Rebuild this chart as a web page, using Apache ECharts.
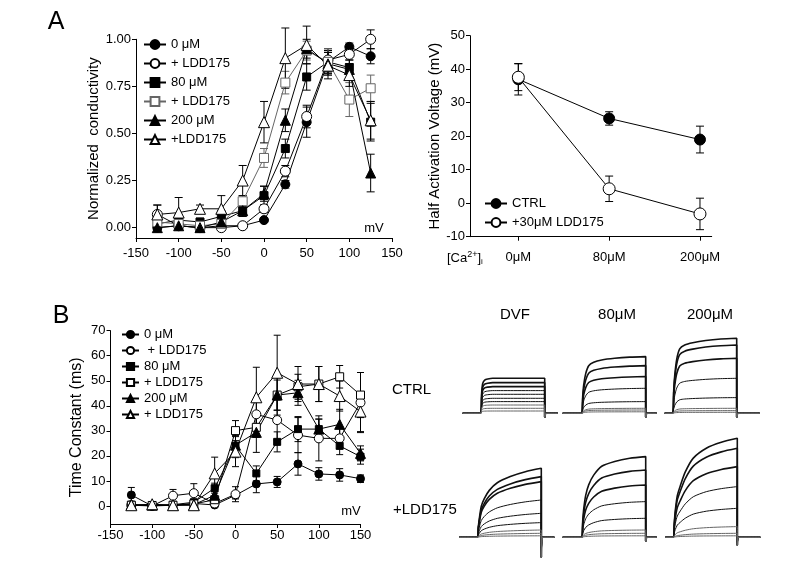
<!DOCTYPE html>
<html>
<head>
<meta charset="utf-8">
<script src="https://cdn.jsdelivr.net/npm/echarts@6/dist/echarts.min.js"></script>
<style>
  html, body { margin: 0; padding: 0; background: #fff; }
  #chart { width: 788px; height: 570px; }
</style>
</head>
<body>
<div id="chart"></div>
<script>
// ---- panel A left: normalized conductivity vs voltage ----
var voltsA = [-125, -100, -75, -50, -25, 0, 25, 50, 75, 100, 125];
var gCa0 = [0.00, 0.01, 0.00, 0.01, 0.01, 0.04, 0.23, 0.56, 0.88, 0.96, 0.91];
var gCa0Err = [0.01, 0.01, 0.01, 0.01, 0.01, 0.01, 0.02, 0.08, 0.06, 0.02, 0.04];
var gLdd0 = [0.07, 0.01, 0.00, 0.00, 0.01, 0.10, 0.30, 0.59, 0.89, 0.92, 1.00];
var gLdd0Err = [0.05, 0.01, 0.01, 0.01, 0.01, 0.02, 0.03, 0.06, 0.06, 0.03, 0.05];
var gCa80 = [0.02, 0.04, 0.03, 0.06, 0.09, 0.17, 0.42, 0.80, 0.88, 0.85, 0.56];
var gCa80Err = [0.02, 0.03, 0.02, 0.03, 0.03, 0.05, 0.05, 0.07, 0.06, 0.06, 0.10];
var gLdd80 = [0.03, 0.02, 0.01, 0.02, 0.14, 0.37, 0.77, 0.94, 0.88, 0.68, 0.74];
var gLdd80Err = [0.02, 0.02, 0.02, 0.02, 0.03, 0.05, 0.06, 0.05, 0.07, 0.09, 0.07];
var gCa200 = [0.00, 0.01, 0.00, 0.03, 0.09, 0.18, 0.57, 0.95, 0.87, 0.84, 0.29];
var gCa200Err = [0.01, 0.01, 0.01, 0.02, 0.03, 0.04, 0.06, 0.05, 0.06, 0.05, 0.10];
var gLdd200 = [0.07, 0.08, 0.10, 0.10, 0.25, 0.56, 0.90, 0.97, 0.86, 0.81, 0.57];
var gLdd200Err = [0.05, 0.08, 0.02, 0.07, 0.08, 0.11, 0.16, 0.10, 0.07, 0.06, 0.10];
var gTicks = [0, 0.25, 0.5, 0.75, 1.0];

// ---- panel A right: half activation voltage ----
var caLabels = ['0\u03bcM', '80\u03bcM', '200\u03bcM'];
var vhCtrl = [37.0, 25.3, 19.0];
var vhCtrlErr = [4.7, 2.0, 4.0];
var vhLdd = [37.6, 4.3, -3.2];
var vhLddErr = [4.0, 3.8, 4.7];

// ---- panel B left: time constant vs voltage ----
var voltsB = [-125, -100, -75, -50, -25, 0, 25, 50, 75, 100, 125, 150];
var tauCa0 = [4.4, 0.0, 0.3, 1.0, 0.4, 4.3, 8.8, 9.6, 16.8, 12.8, 12.4, 10.9];
var tauCa0Err = [3.0, 0.5, 0.5, 0.5, 0.5, 1.5, 3.5, 2.2, 4.5, 2.5, 2.5, 1.5];
var tauLdd0 = [0.3, 0.0, 4.1, 5.1, 1.0, 4.7, 36.6, 34.3, 28.3, 27.0, 27.0, 41.3];
var tauLdd0Err = [0.5, 0.5, 2.5, 3.8, 0.8, 3.0, 5.0, 8.0, 7.0, 9.0, 4.0, 12.0];
var tauCa80 = [0.5, 0.2, 0.5, 1.5, 7.1, 24.1, 13.0, 25.6, 30.7, 30.7, 24.0, 19.7];
var tauCa80Err = [0.5, 0.5, 0.5, 1.0, 2.0, 4.0, 3.0, 4.0, 5.0, 4.0, 3.5, 3.0];
var tauLdd80 = [0.3, 0.2, 0.3, 0.8, 2.5, 30.1, 31.4, 44.3, 47.6, 48.7, 51.6, 44.3];
var tauLdd80Err = [0.5, 0.5, 0.5, 0.5, 1.0, 4.0, 4.0, 8.0, 5.0, 7.0, 4.5, 9.0];
var tauCa200 = [0.5, 0.3, 0.3, 0.5, 4.3, 24.3, 29.4, 44.3, 45.2, 30.7, 32.6, 21.0];
var tauCa200Err = [0.5, 0.5, 0.5, 0.5, 1.5, 5.0, 8.0, 6.0, 5.0, 4.0, 6.0, 3.0];
var tauLdd200 = [0.3, 0.7, 0.3, 0.3, 13.0, 21.7, 43.4, 53.2, 48.7, 48.7, 43.9, 37.7];
var tauLdd200Err = [0.5, 0.5, 0.5, 0.5, 6.5, 6.0, 12.0, 15.0, 7.0, 7.0, 6.0, 8.0];
var tauTicks = [0, 10, 20, 30, 40, 50, 60, 70];

// ---- panel B right: current traces (arbitrary units) ----
var traceCols = ['DVF', '80\u03bcM', '200\u03bcM'];
var traceRows = ['CTRL', '+LDD175'];
var pulseLen = 64;
var sweepStart = [-18, -19, -8];
var sweepEnd = [77, 75, 87];
var riseTime = [0, 1, 2, 4, 7, 12, 20, 33, 48, 64];
// plateau of each sweep, per panel (row CTRL then +LDD175, cols DVF/80/200)
var ampCtrlDvf = [35, 30.7, 26.7, 22.7, 19, 15, 11.7, 8.3, 5, 2.3];
var ampCtrl80 = [56.7, 47.7, 36.7, 25, 11.7, 5, 3.3, 1.5];
var ampCtrl200 = [75, 68.3, 55, 35, 15.7, 5, 2.7, 1];
var ampLddDvf = [69, 60.7, 55.7, 37.3, 24, 14.7, 7.3, 4, 1.5];
var ampLdd80 = [80.7, 67.3, 52.3, 35.7, 19, 7.3, 4, 1.5];
var ampLdd200 = [99, 89, 70.7, 50.7, 29, 10.7, 4, 1.5];
// activation time course, fraction of plateau at riseTime
var riseCtrlDvf = [0, 0.6, 0.85, 0.95, 0.98, 1, 1, 1, 1, 1];
var riseCtrl80 = [0, 0.3, 0.5, 0.7, 0.84, 0.9, 0.94, 0.97, 0.99, 1];
var riseCtrl200 = [0, 0.3, 0.5, 0.72, 0.86, 0.91, 0.94, 0.97, 0.99, 1];
var riseLddDvf = [0, 0.15, 0.27, 0.45, 0.56, 0.68, 0.79, 0.88, 0.95, 1];
var riseLdd80 = [0, 0.2, 0.35, 0.52, 0.65, 0.77, 0.88, 0.94, 0.98, 1];
var riseLdd200 = [0, 0.15, 0.27, 0.42, 0.52, 0.66, 0.8, 0.9, 0.96, 1];
var tailDip = [4, 4, 4, 20, 4, 8];

var FONT = '"Liberation Sans", Arial, sans-serif';
var myChart = echarts.init(document.getElementById('chart'));

function axisBase(extra) {
  var a = {
    type: 'value',
    axisLine: { show: true, onZero: false, lineStyle: { color: '#000', width: 1 } },
    axisTick: { show: true, inside: false, length: 4, lineStyle: { color: '#000' } },
    axisLabel: { color: '#000', fontSize: 13, fontFamily: FONT, margin: 5 },
    splitLine: { show: false },
    nameTextStyle: { color: '#000', fontSize: 15, fontFamily: FONT }
  };
  for (var k in extra) a[k] = extra[k];
  return a;
}

function errorBars(xs, ys, errs, axis, color, cap) {
  return {
    type: 'custom', xAxisIndex: axis, yAxisIndex: axis, z: 1, silent: true,
    data: xs.map(function (x, i) { return [x, ys[i] - errs[i], ys[i] + errs[i]]; }),
    renderItem: function (params, api) {
      var lo = api.coord([api.value(0), api.value(1)]);
      var hi = api.coord([api.value(0), api.value(2)]);
      var st = { stroke: color, lineWidth: 1 };
      return {
        type: 'group', children: [
          { type: 'line', shape: { x1: lo[0], y1: lo[1], x2: hi[0], y2: hi[1] }, style: st },
          { type: 'line', shape: { x1: lo[0] - cap, y1: lo[1], x2: lo[0] + cap, y2: lo[1] }, style: st },
          { type: 'line', shape: { x1: hi[0] - cap, y1: hi[1], x2: hi[0] + cap, y2: hi[1] }, style: st }
        ]
      };
    }
  };
}

// open markers are drawn as white-filled shapes with a thin outline
function pointLine(name, xs, ys, axis, symbol, open, size, color) {
  return {
    name: name, type: 'line', xAxisIndex: axis, yAxisIndex: axis, z: 2,
    data: xs.map(function (x, i) { return [x, ys[i]]; }),
    symbol: symbol, symbolSize: size, showAllSymbol: true,
    lineStyle: { color: color, width: 1 },
    itemStyle: { color: open ? '#fff' : color, borderColor: color, borderWidth: 1 },
    emphasis: { disabled: true }
  };
}

var series = [];
var legendA = [], legendAR = [], legendB = [];

// panel A left
var setA = [
  ['0 \u03bcM', gCa0, gCa0Err, 'circle', false, 9, '#000'],
  ['+ LDD175', gLdd0, gLdd0Err, 'circle', true, 10, '#000'],
  ['80 \u03bcM', gCa80, gCa80Err, 'rect', false, 8, '#000'],
  ['+ LDD175 ', gLdd80, gLdd80Err, 'rect', true, 9, '#666'],
  ['200 \u03bcM', gCa200, gCa200Err, 'triangle', false, 10, '#000'],
  ['+LDD175', gLdd200, gLdd200Err, 'triangle', true, 11, '#000']
];
setA.forEach(function (s) {
  series.push(errorBars(voltsA, s[1], s[2], 0, s[6], 4));
  series.push(pointLine(s[0], voltsA, s[1], 0, s[3], s[4], s[5], s[6]));
  legendA.push(s[0]);
});

// panel A right
var caPos = [0, 1, 2];
series.push(errorBars(caPos, vhCtrl, vhCtrlErr, 1, '#000', 4));
series.push(errorBars(caPos, vhLdd, vhLddErr, 1, '#000', 4));
series.push(pointLine('CTRL', caPos, vhCtrl, 1, 'circle', false, 11, '#000'));
series.push(pointLine('+30\u03bcM LDD175', caPos, vhLdd, 1, 'circle', true, 12, '#000'));
legendAR.push('CTRL', '+30\u03bcM LDD175');

// panel B left
var setB = [
  ['0 \u03bcM  ', tauCa0, tauCa0Err, 'circle', false, 8],
  [' + LDD175  ', tauLdd0, tauLdd0Err, 'circle', true, 9],
  ['80 \u03bcM  ', tauCa80, tauCa80Err, 'rect', false, 7],
  ['+ LDD175   ', tauLdd80, tauLdd80Err, 'rect', true, 8],
  ['200 \u03bcM  ', tauCa200, tauCa200Err, 'triangle', false, 10],
  ['+ LDD175    ', tauLdd200, tauLdd200Err, 'triangle', true, 11]
];
setB.forEach(function (s) {
  series.push(errorBars(voltsB, s[1], s[2], 2, '#000', 3.5));
  series.push(pointLine(s[0], voltsB, s[1], 2, s[3], s[4], s[5], '#000'));
  legendB.push(s[0]);
});

// current traces, grids 3..8
var ampSets = [ampCtrlDvf, ampCtrl80, ampCtrl200, ampLddDvf, ampLdd80, ampLdd200];
var riseSets = [riseCtrlDvf, riseCtrl80, riseCtrl200, riseLddDvf, riseLdd80, riseLdd200];
ampSets.forEach(function (amps, p) {
  var col = p % 3;
  amps.forEach(function (amp, k) {
    var pts = [[sweepStart[col], 0], [0, 0]];
    riseTime.forEach(function (t, i) { pts.push([t, amp * riseSets[p][i]]); });
    pts.push([pulseLen, -tailDip[p]], [pulseLen + 1.5, 0], [sweepEnd[col], 0]);
    series.push({
      type: 'line', xAxisIndex: 3 + p, yAxisIndex: 3 + p, data: pts,
      showSymbol: false, smooth: 0.25, silent: true,
      lineStyle: { color: k < amps.length - 3 ? '#111' : '#666', width: k < 3 ? 1.6 : 1 }
    });
  });
});

// grids
var grids = [
  { left: 136, top: 39.3, width: 256, height: 198.7 },
  { left: 470, top: 35.7, width: 241.7, height: 201 },
  { left: 110.5, top: 330.7, width: 250, height: 193.3 }
];
var pulseX = [480.7, 581.7, 672.7, 477.3, 581.7, 673.3];
var baseY = [413.3, 537.3];
pulseX.forEach(function (px, p) {
  grids.push({ left: px - 20, top: baseY[Math.floor(p / 3)] - 105, width: 110, height: 130 });
});

var xAxes = [
  axisBase({ gridIndex: 0, min: -150, max: 150, interval: 50,
    axisLabel: { color: '#000', fontSize: 13, fontFamily: FONT, margin: 9 } }),
  axisBase({ gridIndex: 1, min: -0.532, max: 2.129,
    axisTick: { show: true, length: 4, lineStyle: { color: '#000' }, customValues: caPos },
    axisLabel: { color: '#000', fontSize: 13, fontFamily: FONT, margin: 14, customValues: caPos,
      formatter: function (v) { return caLabels[Math.round(v)]; } } }),
  axisBase({ gridIndex: 2, min: -150, max: 150, interval: 50 })
];
var yAxes = [
  axisBase({ gridIndex: 0, min: -0.055, max: 1.0,
    name: 'Normalized  conductivity', nameLocation: 'middle', nameGap: 31,
    axisTick: { show: true, length: 4, lineStyle: { color: '#000' }, customValues: gTicks },
    axisLabel: { color: '#000', fontSize: 13, fontFamily: FONT, margin: 5, customValues: gTicks,
      formatter: function (v) { return v.toFixed(2); } } }),
  axisBase({ gridIndex: 1, min: -10, max: 50, interval: 10,
    name: 'Half Activation Voltage (mV)', nameLocation: 'middle', nameGap: 28 }),
  axisBase({ gridIndex: 2, min: -7.2, max: 70,
    name: 'Time Constant (ms)', nameLocation: 'middle', nameGap: 26,
    nameTextStyle: { color: '#000', fontSize: 16, fontFamily: FONT },
    axisTick: { show: true, length: 4, lineStyle: { color: '#000' }, customValues: tauTicks },
    axisLabel: { color: '#000', fontSize: 13, fontFamily: FONT, margin: 5, customValues: tauTicks } })
];
for (var p = 0; p < 6; p++) {
  xAxes.push({ type: 'value', gridIndex: 3 + p, min: -20, max: 90, show: false });
  yAxes.push({ type: 'value', gridIndex: 3 + p, min: -25, max: 105, show: false });
}

function legendBox(data, left, top, w, h, gap) {
  return {
    data: data, left: left, top: top, orient: 'vertical', selectedMode: false,
    itemWidth: w, itemHeight: h, itemGap: gap, padding: 0,
    textStyle: { color: '#000', fontSize: 13, fontFamily: FONT }
  };
}

function label(text, x, y, size, align) {
  return {
    type: 'text', x: x, y: y, silent: true,
    style: { text: text, fill: '#000', font: size + 'px ' + FONT, textAlign: align || 'center', textVerticalAlign: 'middle' }
  };
}

var graphics = [
  label('A', 56, 22, 25),
  label('B', 61, 316, 25),
  label('mV', 374, 228, 13),
  label('mV', 351, 511, 13),
  label(traceCols[0], 515, 315, 15),
  label(traceCols[1], 617, 315, 15),
  label(traceCols[2], 710, 315, 15),
  label(traceRows[0], 392, 390, 15, 'left'),
  label(traceRows[1], 393, 510, 15, 'left'),
  {
    type: 'text', x: 447, y: 258, silent: true,
    style: {
      text: '[Ca{sup|2+}]{sub|i}', fill: '#000', font: '13px ' + FONT, textVerticalAlign: 'middle',
      rich: {
        sup: { fontSize: 9, fontFamily: FONT, verticalAlign: 'top', padding: [0, 0, 6, 0] },
        sub: { fontSize: 8, fontFamily: FONT, verticalAlign: 'bottom', padding: [6, 0, 0, 0] }
      }
    }
  }
];

myChart.setOption({
  animation: false,
  backgroundColor: '#fff',
  textStyle: { fontFamily: FONT },
  grid: grids,
  xAxis: xAxes,
  yAxis: yAxes,
  legend: [
    legendBox(legendA, 143, 38, 22, 11, 6),
    legendBox(legendAR, 484, 197, 22, 11, 6),
    legendBox(legendB, 121, 328, 17, 9, 3)
  ],
  graphic: graphics,
  series: series
});
</script>
</body>
</html>
